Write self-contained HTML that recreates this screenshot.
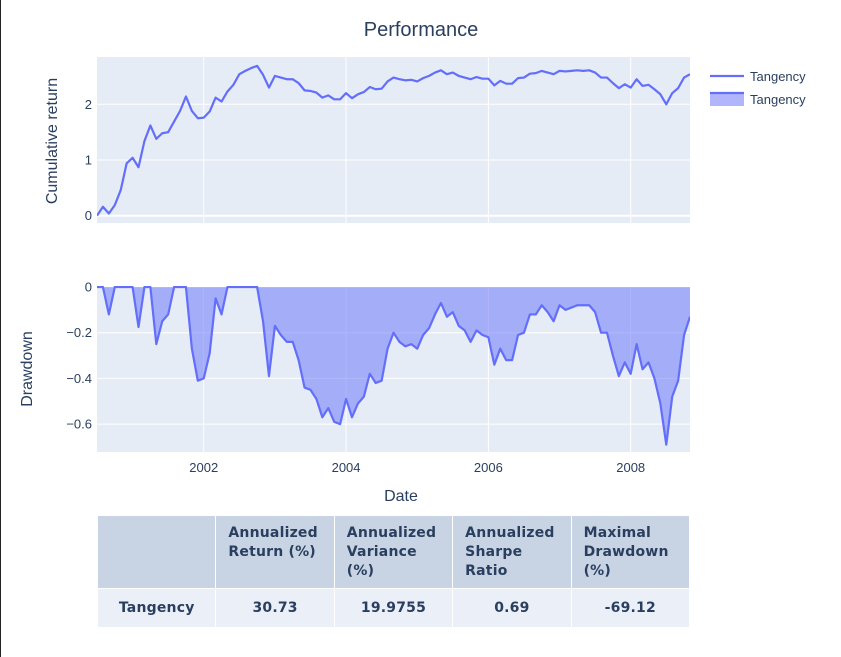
<!DOCTYPE html>
<html><head><meta charset="utf-8">
<style>
body{margin:0;background:#fff;font-family:"Liberation Sans",sans-serif;}
#wrap{position:relative;width:841px;height:657px;overflow:hidden;}
#edge{position:absolute;left:0;top:0;width:1px;height:657px;background:#222;}
svg text{font-family:"Liberation Sans",sans-serif;}
table{position:absolute;left:97px;top:515px;width:593px;border-collapse:collapse;table-layout:fixed;}
td,th{border:1px solid #fff;color:#2a3f5f;font-size:14px;font-weight:bold;font-family:"DejaVu Sans","Liberation Sans",sans-serif;letter-spacing:0.2px;}
th{background:#c8d4e3;height:73px;text-align:left;vertical-align:top;padding:8px 12px 0 12px;line-height:19px;box-sizing:border-box;}
td{background:#ebf0f8;height:36px;text-align:center;}
</style></head><body>
<div id="wrap">
<div id="edge"></div>
<svg id="chart" width="841" height="510" style="position:absolute;left:0;top:0"></svg>
<table>
<tr><th></th><th>Annualized Return (%)</th><th>Annualized Variance (%)</th><th>Annualized Sharpe Ratio</th><th>Maximal Drawdown (%)</th></tr>
<tr><td>Tangency</td><td>30.73</td><td>19.9755</td><td>0.69</td><td>-69.12</td></tr>
</table>
</div>
<script>
const startYear = 2000.5;
const cumReturn = [0,0.16,0.04,0.19,0.46,0.94,1.04,0.87,1.34,1.62,1.38,1.48,1.50,1.69,1.88,2.14,1.88,1.75,1.76,1.87,2.12,2.05,2.23,2.35,2.54,2.60,2.65,2.69,2.53,2.30,2.51,2.48,2.45,2.45,2.38,2.25,2.24,2.21,2.12,2.16,2.09,2.09,2.20,2.11,2.18,2.22,2.31,2.27,2.28,2.41,2.48,2.45,2.43,2.44,2.41,2.47,2.51,2.57,2.61,2.54,2.57,2.51,2.48,2.45,2.49,2.46,2.46,2.34,2.42,2.37,2.37,2.47,2.48,2.55,2.56,2.60,2.57,2.54,2.60,2.59,2.60,2.61,2.60,2.61,2.57,2.48,2.48,2.38,2.29,2.36,2.30,2.45,2.33,2.35,2.27,2.18,2.00,2.20,2.29,2.48,2.54];
const drawdown = [0,0,-0.12,0,0,0,0,-0.175,0,0,-0.25,-0.15,-0.12,0,0,0,-0.27,-0.41,-0.40,-0.29,-0.05,-0.12,0,0,0,0,0,0,-0.15,-0.39,-0.17,-0.21,-0.24,-0.24,-0.32,-0.44,-0.45,-0.49,-0.57,-0.53,-0.59,-0.60,-0.49,-0.57,-0.51,-0.48,-0.38,-0.42,-0.41,-0.27,-0.20,-0.24,-0.26,-0.25,-0.27,-0.21,-0.18,-0.12,-0.07,-0.13,-0.11,-0.17,-0.19,-0.24,-0.19,-0.21,-0.22,-0.34,-0.27,-0.32,-0.32,-0.21,-0.20,-0.12,-0.12,-0.08,-0.11,-0.15,-0.08,-0.10,-0.09,-0.08,-0.08,-0.08,-0.11,-0.20,-0.20,-0.30,-0.39,-0.33,-0.38,-0.25,-0.36,-0.33,-0.40,-0.51,-0.69,-0.48,-0.41,-0.21,-0.13];
const xTicks = [2002,2004,2006,2008];
const topTicks = [0,1,2];
const botTicks = [0,-0.2,-0.4,-0.6];
const botTickLabels = ["0","−0.2","−0.4","−0.6"];

const NS="http://www.w3.org/2000/svg";
const svg=document.getElementById('chart');
function mk(tag,attrs,parent){const e=document.createElementNS(NS,tag);for(const k in attrs)e.setAttribute(k,attrs[k]);(parent||svg).appendChild(e);return e;}
const L=97,R=690;
const n=cumReturn.length;
function xDate(t){return L+(t-startYear)*(R-L)/((n-1)/12);}
function xIdx(i){return xDate(startYear+i/12);}
const topY0=57,topY1=223; function yTop(v){return 215.7-v*55.7;}
const botY0=286,botY1=452; function yBot(v){return 287-v*228.5;}

let e=mk('rect',{x:L,y:topY0,width:R-L,height:topY1-topY0,fill:'#e5ecf6'});


e=mk('rect',{x:L,y:botY0,width:R-L,height:botY1-botY0,fill:'#e5ecf6'});



xTicks.forEach(t=>{
  const x=xDate(t);
  mk('line',{x1:x,x2:x,y1:topY0,y2:topY1,stroke:'#fff','stroke-width':1});
  mk('line',{x1:x,x2:x,y1:botY0,y2:botY1,stroke:'#fff','stroke-width':1});
  const tx=mk('text',{x:x,y:472,'text-anchor':'middle','font-size':13,fill:'#2a3f5f'});
  tx.textContent=t;
  
  
});
topTicks.forEach(v=>{
  const y=yTop(v);
  mk('line',{x1:L,x2:R,y1:y,y2:y,stroke:'#fff','stroke-width':v===0?2:1});
  const tx=mk('text',{x:L-5,y:y+4.5,'text-anchor':'end','font-size':13,fill:'#2a3f5f'});
  tx.textContent=v;
  
  
});
botTicks.forEach((v,i)=>{
  const y=yBot(v);
  mk('line',{x1:L,x2:R,y1:y,y2:y,stroke:'#fff','stroke-width':v===0?2:1});
  const tx=mk('text',{x:L-5,y:y+4.5,'text-anchor':'end','font-size':13,fill:'#2a3f5f'});
  tx.textContent=botTickLabels[i];
  
  
});

const defs=mk('defs',{});
const cp1=mk('clipPath',{id:'c1'},defs);mk('rect',{x:L,y:topY0,width:R-L,height:topY1-topY0},cp1);
const cp2=mk('clipPath',{id:'c2'},defs);mk('rect',{x:L,y:botY0,width:R-L,height:botY1-botY0},cp2);

let d=cumReturn.map((v,i)=>(i?'L':'M')+xIdx(i).toFixed(2)+','+yTop(v).toFixed(2)).join('');
e=mk('path',{d:d,fill:'none',stroke:'#636efa','stroke-width':2.2,'stroke-linejoin':'round','clip-path':'url(#c1)'});



d=drawdown.map((v,i)=>(i?'L':'M')+xIdx(i).toFixed(2)+','+yBot(v).toFixed(2)).join('');
const area=d+'L'+xIdx(n-1).toFixed(2)+','+yBot(0)+'L'+xIdx(0).toFixed(2)+','+yBot(0)+'Z';
e=mk('path',{d:area,fill:'rgba(99,110,250,0.5)',stroke:'none','clip-path':'url(#c2)'});


e=mk('path',{d:d,fill:'none',stroke:'#636efa','stroke-width':2.2,'stroke-linejoin':'round','clip-path':'url(#c2)'});



e=mk('text',{x:421,y:36,'text-anchor':'middle','font-size':20,fill:'#2a3f5f'});e.textContent='Performance';


e=mk('text',{x:401,y:501,'text-anchor':'middle','font-size':16,fill:'#2a3f5f'});e.textContent='Date';


e=mk('text',{x:0,y:0,'text-anchor':'middle','font-size':16,fill:'#2a3f5f',transform:'translate(57,141) rotate(-90)'});e.textContent='Cumulative return';


e=mk('text',{x:0,y:0,'text-anchor':'middle','font-size':16,fill:'#2a3f5f',transform:'translate(32,369) rotate(-90)'});e.textContent='Drawdown';



let g=mk('g',{});


mk('line',{x1:710,x2:744,y1:76,y2:76,stroke:'#636efa','stroke-width':2.2},g);
e=mk('text',{x:750,y:81,'font-size':13,fill:'#2a3f5f'},g);e.textContent='Tangency';
g=mk('g',{});


mk('rect',{x:710,y:93,width:34,height:13,fill:'rgba(99,110,250,0.5)'},g);
mk('line',{x1:710,x2:744,y1:93,y2:93,stroke:'#636efa','stroke-width':2.2},g);
e=mk('text',{x:750,y:104,'font-size':13,fill:'#2a3f5f'},g);e.textContent='Tangency';
</script>
</body></html>
